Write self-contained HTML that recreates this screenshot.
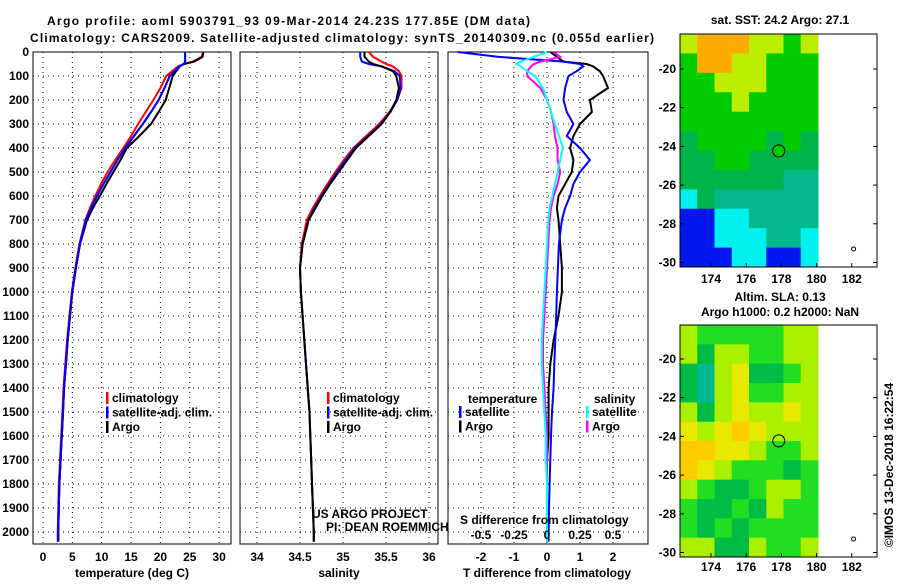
<!DOCTYPE html>
<html><head><meta charset="utf-8"><style>
body{margin:0;background:#fff;width:900px;height:580px;overflow:hidden}
svg text{font-family:"Liberation Sans",sans-serif;font-weight:bold;font-size:12px;fill:#000}
</style></head><body>
<svg id="s" width="900" height="580" xmlns="http://www.w3.org/2000/svg">
<text x="47" y="25" font-size="14" textLength="483">Argo profile: aoml 5903791_93 09-Mar-2014 24.23S 177.85E (DM data)</text>
<text x="30" y="42" font-size="14" textLength="624">Climatology: CARS2009. Satellite-adjusted climatology: synTS_20140309.nc (0.055d earlier)</text>
<text x="780" y="24" text-anchor="middle">sat. SST: 24.2 Argo: 27.1</text>
<text x="780" y="301" text-anchor="middle">Altim. SLA: 0.13</text>
<text x="780" y="316" text-anchor="middle">Argo h1000: 0.2 h2000: NaN</text>
<text transform="translate(893,465) rotate(-90)" text-anchor="middle" font-weight="normal">©IMOS 13-Dec-2018 16:22:54</text>
</svg>
<script>
const depths=[0,20,40,50,60,80,100,150,200,250,300,350,400,450,500,550,600,650,700,800,900,1000,1100,1200,1300,1400,1500,1600,1700,1800,1900,2000,2040];
const tempArgo=[27.3,27.2,25.8,24,23.3,22.7,22.1,21.5,20.9,19.7,18.4,16.4,14.3,13.2,12,10.8,9.7,8.5,7.5,6.3,5.6,5.0,4.6,4.2,3.9,3.6,3.4,3.2,3.0,2.8,2.7,2.6,2.6];
const tempClim=[27.3,27,25.5,24,23,22,21,20,18.8,17.5,16.2,15,13.7,12.3,11,9.9,8.9,8,7.2,6.2,5.5,4.9,4.5,4.1,3.8,3.5,3.3,3.1,2.9,2.7,2.6,2.5,2.5];
const tempSat=[24.2,24.2,24.2,24.0,23.2,22.4,21.6,20.7,19.7,18.4,17.0,15.5,14.0,12.7,11.5,10.3,9.2,8.2,7.3,6.3,5.6,5.0,4.6,4.2,3.9,3.6,3.4,3.2,3.0,2.8,2.7,2.6,2.6];
const salArgo=[35.25,35.25,35.3,35.35,35.45,35.58,35.62,35.65,35.62,35.55,35.45,35.3,35.15,35.05,34.95,34.85,34.76,34.68,34.6,34.53,34.5,34.51,34.53,34.55,34.57,34.59,34.61,34.62,34.63,34.64,34.65,34.66,34.66];
const salClim=[35.3,35.35,35.45,35.5,35.58,35.65,35.68,35.68,35.63,35.54,35.42,35.27,35.12,35.01,34.91,34.82,34.73,34.65,34.58,34.52,34.5,34.51,34.53,34.55,34.57,34.59,34.61,34.62,34.63,34.64,34.65,34.66,34.66];
const salSat=[35.2,35.2,35.22,35.3,35.45,35.6,35.66,35.67,35.63,35.55,35.44,35.29,35.14,35.03,34.93,34.84,34.75,34.67,34.6,34.53,34.5,34.51,34.53,34.55,34.57,34.59,34.61,34.62,34.63,34.64,34.65,34.66,34.66];
const tdiffArgo=[0.1,0.3,0.5,1.2,1.4,1.6,1.7,1.85,1.3,1.36,1.0,0.8,0.7,0.8,0.75,0.55,0.35,0.3,0.35,0.4,0.45,0.45,0.35,0.2,0.1,0.05,0.05,0.05,0,0,0,0,0];
const tdiffSat=[-2.7,-1.5,0.5,1.0,1.1,0.9,0.65,0.55,0.5,0.6,0.8,0.6,1.0,1.3,1.0,0.8,0.7,0.55,0.45,0.36,0.33,0.3,0.28,0.25,0.22,0.2,0.15,0.12,0.1,0.08,0.06,0.05,0.05];
const sdiffArgo=[0.05,0.1,-0.05,-0.1,-0.12,-0.15,-0.15,-0.05,0,0.03,0.05,0.06,0.08,0.08,0.1,0.08,0.05,0.03,0.02,0.01,0,-0.01,-0.02,-0.03,-0.03,-0.02,-0.01,0,0,0,0,0,0];
const sdiffSat=[0,-0.1,-0.2,-0.23,-0.2,-0.15,-0.09,-0.03,0,0.03,0.06,0.09,0.12,0.1,0.08,0.06,0.04,0.02,0.01,0,-0.01,-0.02,-0.03,-0.04,-0.04,-0.03,-0.02,-0.01,-0.01,0,0,0,0];
const depthTicks=[0,100,200,300,400,500,600,700,800,900,1000,1100,1200,1300,1400,1500,1600,1700,1800,1900,2000];
const tempTicks=[0,5,10,15,20,25,30];
const salTicks=[34,34.5,35,35.5,36];
const tdTicks=[-2,-1,0,1,2];
const sdTicks=[-0.5,-0.25,0,0.25,0.5];
const latTicks=[-20,-22,-24,-26,-28,-30];
const lonTicks=[174,176,178,180,182];
const sstGrid=["YOOOYYGY","GOOYYGGG","GGYYYGGG","GGGYGGGG","GGGGGGGG","gGGGGgGg","ggGGgggg","ggggggTT","CgTTTTTT","BBCCTTTT","BBCCCTTC","BBBCCBBC"];
const slaGrid=["LGGGGGLL","LDLLGGLL","DTLYDDGL","DTLYGGLL","LDLYLLYL","YLYOYLLL","OOYYLGGL","OYLGGGDG","LGDDGLLG","GDDGDLGG","GDGDGGGG","LLDDLGGL"];
const sstColors={O:"#ffaa00",Y:"#bbee00",G:"#00cc00",g:"#00b44a",T:"#00b88a",C:"#00f0f0",B:"#0018ee"};
const slaColors={L:"#aaee00",G:"#22dd22",Y:"#e8e800",O:"#ffcc00",D:"#00bb44",T:"#00b890"};
const NS="http://www.w3.org/2000/svg",S=document.getElementById('s');
function el(t,a,p){const e=document.createElementNS(NS,t);for(const k in a)e.setAttribute(k,a[k]);(p||S).appendChild(e);return e;}
const yD=d=>52+0.24*d;
const xT=v=>43+5.87*v, xS=v=>257+86*(v-34), xTd=v=>547+33*v, xSd=v=>547+132*v;
function panel(x0,x1,name){
 const g=el('g',{});
 el('rect',{x:x0,y:52,width:x1-x0,height:492,fill:'#fff',stroke:'#000','stroke-width':1},g);
 return g;}
function grid(g,x0,x1,xs){
 depthTicks.forEach(d=>{const l=el('line',{x1:x0,x2:x1,y1:yD(d),y2:yD(d),stroke:'#000','stroke-dasharray':'1,4'},g);});
 xs.forEach(x=>{const l=el('line',{x1:x,x2:x,y1:52,y2:544,stroke:'#000','stroke-dasharray':'1,4'},g);});}
function line(g,xs,fx,col,name){
 const pts=depths.map((d,i)=>fx(xs[i]).toFixed(1)+','+yD(d).toFixed(1)).join(' ');
 const p=el('polyline',{points:pts,fill:'none',stroke:col,'stroke-width':2},g);
 }
function txt(g,x,y,s,anchor,name,extra){const t=el('text',Object.assign({x:x,y:y,'text-anchor':anchor||'start'},extra||{}),g);t.textContent=s;return t;}
function legend(g,x,y,items){items.forEach((it,i)=>{el('rect',{x:x,y:y+i*14.5-10,width:2.5,height:12,fill:it[1]},g);txt(g,x+6,y+i*14.5,it[0],'start','legend-entry');});}
// Panel 1
let g1=panel(33,231,'temperature-panel');
grid(g1,33,231,tempTicks.map(xT));
line(g1,tempClim,xT,'#ff0000','temp-climatology-line');
line(g1,tempSat,xT,'#0000ff','temp-satellite-line');
line(g1,tempArgo,xT,'#000','temp-argo-line');
line(g1,tempSat,xT,'#0000ff','temp-satellite-line-overlay');
depthTicks.forEach(d=>txt(g1,29,yD(d)+4,String(d),'end','depth-tick-label'));
tempTicks.forEach(v=>txt(g1,xT(v),561,String(v),'middle','temp-tick-label',{'font-weight':'normal'}));
txt(g1,132,577,'temperature (deg C)','middle','x-axis-title-temperature');
legend(g1,106,402,[['climatology','#ff0000'],['satellite-adj. clim.','#0000ff'],['Argo','#000']]);
// Panel 2
let g2=panel(240,438,'salinity-panel');
grid(g2,240,438,salTicks.map(xS));
line(g2,salClim,xS,'#ff0000','sal-climatology-line');
line(g2,salSat,xS,'#0000ff','sal-satellite-line');
line(g2,salArgo,xS,'#000','sal-argo-line');
salTicks.forEach(v=>txt(g2,xS(v),561,String(v),'middle','sal-tick-label',{'font-weight':'normal'}));
txt(g2,339,577,'salinity','middle','x-axis-title-salinity');
legend(g2,327,402,[['climatology','#ff0000'],['satellite-adj. clim.','#0000ff'],['Argo','#000']]);
txt(g2,312,518,'US ARGO PROJECT','start','project-credit',{'font-weight':'normal'});
txt(g2,326,531,'PI: DEAN ROEMMICH','start','pi-credit',{'font-weight':'normal'});
// Panel 3
let g3=panel(448,648,'difference-panel');
grid(g3,448,648,tdTicks.map(xTd));
line(g3,tdiffArgo,xTd,'#000','tdiff-argo-line');
line(g3,tdiffSat,xTd,'#0000ff','tdiff-satellite-line');
line(g3,sdiffArgo,xSd,'#ff00ff','sdiff-argo-line');
line(g3,sdiffSat,xSd,'#00ffff','sdiff-satellite-line');
txt(g3,468,403,'temperature','start','legend-title-temperature');
txt(g3,594,403,'salinity','start','legend-title-salinity');
legend(g3,459,416,[['satellite','#0000ff'],['Argo','#000']]);
legend(g3,586,416,[['satellite','#00ffff'],['Argo','#ff00ff']]);
txt(g3,460,524,'S difference from climatology','start','s-axis-title');
sdTicks.forEach(v=>txt(g3,xSd(v),539,String(v),'middle','s-tick-label'));
tdTicks.forEach(v=>txt(g3,xTd(v),561,String(v),'middle','tdiff-tick-label',{'font-weight':'normal'}));
txt(g3,547,577,'T difference from climatology','middle','x-axis-title-tdiff');
// Maps
function map(y0,y1,latTop,grid,colors,name,circFill,lonY){
 const g=el('g',{});
 const x0=680,x1=877,lonx=v=>711+17.6*(v-174),laty=v=>latTop+19.35*(-20-v);
 const rows=grid.length,cols=grid[0].length,cw=(818-x0)/cols,ch=(y1-y0)/rows;
 grid.forEach((r,i)=>[...r].forEach((c,j)=>{const rc=el('rect',{x:x0+j*cw,y:y0+i*ch,width:cw+0.5,height:ch+0.5,fill:colors[c]},g);}));
 el('rect',{x:x0,y:y0,width:x1-x0,height:y1-y0,fill:'none',stroke:'#000'},g);
 latTicks.forEach(v=>{el('line',{x1:x0,x2:x0+4,y1:laty(v),y2:laty(v),stroke:'#000'},g);el('line',{x1:x1-4,x2:x1,y1:laty(v),y2:laty(v),stroke:'#000'},g);txt(g,676,laty(v)+4,String(v),'end','lat-tick-label',{'font-weight':'normal'});});
 lonTicks.forEach(v=>{el('line',{x1:lonx(v),x2:lonx(v),y1:y1-4,y2:y1,stroke:'#000'},g);txt(g,lonx(v),lonY,String(v),'middle','lon-tick-label',{'font-weight':'normal'});});
 const c=el('circle',{cx:lonx(177.85),cy:laty(-24.23),r:6,fill:circFill,stroke:'#000'},g);
 el('circle',{cx:lonx(182.1),cy:laty(-29.3),r:2,fill:'none',stroke:'#000'},g);
}
map(34,267,69,sstGrid,sstColors,'sst-map','#00cc00',283);
map(325,557,359,slaGrid,slaColors,'sla-map','none',571);
</script>
</body></html>
